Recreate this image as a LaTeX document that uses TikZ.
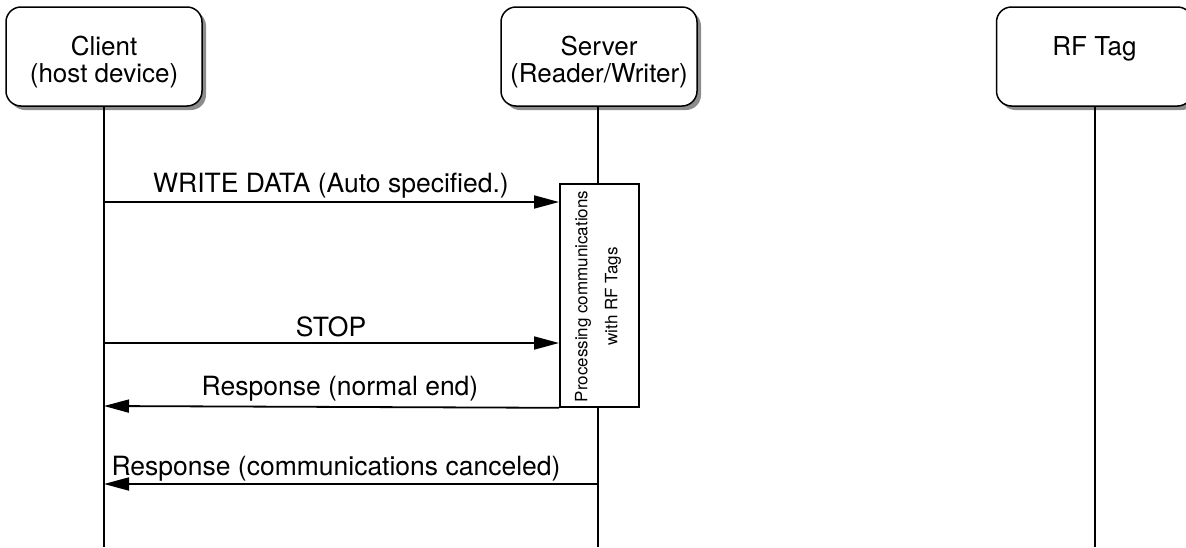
\documentclass[tikz,border=0pt]{standalone}
\usepackage{fontspec}
\setmainfont{TeX Gyre Heros}
\usetikzlibrary{arrows.meta,shadows}
\begin{document}
\begin{tikzpicture}[x=1pt,y=-1pt,
  actor/.style={draw, line width=1.5pt, rounded corners=15pt, fill=white,
    minimum width=196pt, minimum height=99pt, inner sep=0pt,
    drop shadow={shadow xshift=4pt, shadow yshift=-4pt, fill=black!45, opacity=1}},
  hdr/.style={anchor=base, align=center, inner sep=0pt, font=\fontsize{26}{27}\selectfont},
  life/.style={line width=1.7pt},
  msg/.style={line width=1.8pt, -{Triangle[length=25pt,width=13pt]}},
  msgtxt/.style={anchor=base, inner sep=0pt, font=\fontsize{26.5}{27}\selectfont},
  actbox/.style={draw, line width=1.8pt, fill=white, minimum width=79pt, minimum height=223pt, inner sep=0pt, anchor=north west},
  acttxt/.style={rotate=90, align=center, inner sep=0pt, font=\fontsize{17}{30}\selectfont}
]
\useasboundingbox (0,0) rectangle (1186,547);

% actors
\node[actor] (client) at (104,56.5) {};
\node[actor] (server) at (599,56.5) {};
\node[actor] (tag) at (1094.5,56.5) {};
\node[hdr] (clientlbl) at (104,82) {Client\\(host device)};
\node[hdr] (serverlbl) at (599,82) {Server\\(Reader/Writer)};
\node[hdr] (taglbl) at (1094.5,55) {RF Tag};

% lifeline ends
\coordinate (cend) at (104,547);
\coordinate (send) at (598,547);
\coordinate (tend) at (1095,547);
\draw[life] (client.south -| cend) -- (cend);
\draw[life] (server.south -| send) -- (send);
\draw[life] (tag.south -| tend) -- (tend);

% activation
\node[actbox] (act) at (559,183) {};
\node[acttxt] (acttext) at (598,296.5) {Processing communications\\with RF Tags};

% message points on lifelines
\coordinate (c1) at (104,202);
\coordinate (c2) at (104,343);
\coordinate (c3) at (104,406);
\coordinate (c4) at (104,484);
\coordinate (s4) at (598,484);

\draw[msg] (c1) -- (act.west |- c1);
\draw[msg] (c2) -- (act.west |- c2);
\draw[msg] (act.south west) -- (c3);
\draw[msg] (s4) -- (c4);

\node[msgtxt] (m1) at (331,192) {WRITE DATA (Auto specified.)};
\node[msgtxt] (m2) at (331,336) {STOP};
\node[msgtxt] (m3) at (340,395) {Response (normal end)};
\node[msgtxt] (m4) at (336,475) {Response (communications canceled)};
\end{tikzpicture}
\end{document}
